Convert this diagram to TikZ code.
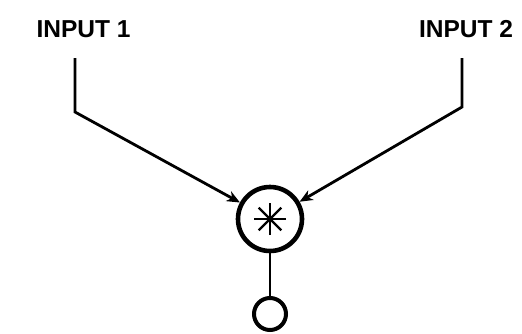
\documentclass[tikz,border=0pt]{standalone}
\usepackage{fontspec}
\setmainfont{Liberation Sans}
\usetikzlibrary{arrows.meta,calc}
\begin{document}
\begin{tikzpicture}[x=1pt,y=-1pt,
  lbl/.style={font=\fontsize{24.5}{24.5}\selectfont\bfseries, anchor=base, inner sep=0pt},
  wire/.style={line width=2.8pt, line join=miter},
  arr/.style={wire, -{Stealth[length=13pt,width=11pt,inset=4pt]}},
  opnode/.style={circle, draw, line width=4.6pt, minimum size=64pt, inner sep=0pt},
  outnode/.style={circle, draw, line width=4pt, minimum size=32pt, inner sep=0pt}]
\useasboundingbox (0,0) rectangle (522,333);
\node[lbl] (in1) at (83.5,37.5) {INPUT 1};
\node[lbl] (in2) at (466,37.5) {INPUT 2};
\node[opnode] (op) at (270,219) {};
\node[outnode] (out) at (270,314) {};
\coordinate (s1) at (75,58);
\coordinate (c1) at (75,112);
\coordinate (s2) at (462,58);
\coordinate (c2) at (462,107);
\draw[arr] (s1) -- (c1) -- (op);
\draw[arr] (s2) -- (c2) -- (op);
\draw[wire] (op) -- (out);
\foreach \a in {0,45,90,135}
  \draw[line width=2.4pt] ($(op.center)+(\a:16)$) -- ($(op.center)+(\a+180:16)$);
\end{tikzpicture}
\end{document}
